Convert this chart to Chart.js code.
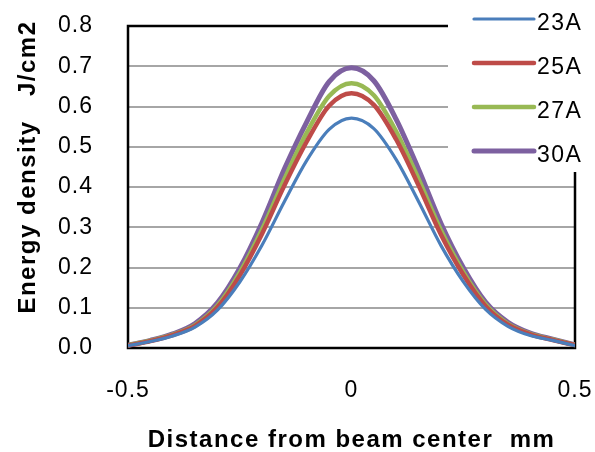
<!DOCTYPE html>
<html>
<head>
<meta charset="utf-8">
<script src="https://cdn.jsdelivr.net/npm/chart.js@4/dist/chart.umd.min.js"></script>
<style>
  html, body { margin: 0; padding: 0; background: #ffffff; }
  #wrap { width: 595px; height: 452px; position: relative; }
</style>
</head>
<body>
<div id="wrap"><canvas id="c" width="595" height="452"></canvas></div>
<script>
// ---- data ----
const distances = [-0.5,-0.45,-0.4,-0.35,-0.3,-0.25,-0.2,-0.15,-0.1,-0.05,0,0.05,0.1,0.15,0.2,0.25,0.3,0.35,0.4,0.45,0.5];
const seriesLabels = ["23A","25A","27A","30A"];
const s23A = [0.006,0.016,0.030,0.052,0.094,0.164,0.256,0.364,0.466,0.543,0.571,0.545,0.468,0.364,0.255,0.165,0.096,0.054,0.031,0.019,0.006];
const s25A = [0.006,0.017,0.032,0.055,0.101,0.180,0.284,0.404,0.513,0.602,0.633,0.604,0.518,0.404,0.282,0.182,0.104,0.058,0.034,0.020,0.007];
const s27A = [0.007,0.018,0.033,0.057,0.105,0.187,0.295,0.420,0.535,0.626,0.658,0.628,0.538,0.420,0.293,0.189,0.108,0.060,0.035,0.021,0.007];
const s30A = [0.007,0.019,0.035,0.061,0.112,0.198,0.312,0.445,0.562,0.662,0.696,0.664,0.568,0.444,0.310,0.200,0.114,0.064,0.037,0.022,0.008];
const xTicks = [-0.5, 0, 0.5];
const yTicks = [0,0.1,0.2,0.3,0.4,0.5,0.6,0.7,0.8];
const xTitle = "Distance from beam center  mm";
const yTitle = "Energy density   J/cm2";

const colors = ["#4A7EBB","#BE4B48","#98B954","#7D60A0"];
const widths = [3.2,4.5,4.5,5];
const allSeries = [s23A, s25A, s27A, s30A];

const datasets = allSeries.map((s, i) => ({
  label: seriesLabels[i],
  data: distances.map((d, j) => ({x: d, y: s[j]})),
  borderColor: colors[i],
  backgroundColor: colors[i],
  borderWidth: widths[i],
  pointRadius: 0,
  cubicInterpolationMode: 'monotone',
  fill: false
}));

const FONT = "'Liberation Sans', Arial, sans-serif";

function zeroPad(scale) {
  scale.paddingTop = 0; scale.paddingBottom = 0;
  scale.paddingLeft = 0; scale.paddingRight = 0;
}

const decor = {
  id: 'decor',
  beforeDraw(chart) {
    const ctx = chart.ctx;
    ctx.save();
    ctx.fillStyle = '#ffffff';
    ctx.fillRect(0, 0, chart.width, chart.height);
    ctx.restore();
    try { ctx.letterSpacing = '1px'; } catch (e) {}
  },
  beforeDatasetsDraw(chart) {
    const {ctx, chartArea: a} = chart;
    ctx.save();
    ctx.strokeStyle = '#000';
    ctx.lineWidth = 2.5;
    ctx.strokeRect(a.left, a.top, a.right - a.left, a.bottom - a.top);
    ctx.restore();
  },
  afterDraw(chart) {
    const {ctx, chartArea: a} = chart;
    ctx.save();
    try { ctx.letterSpacing = '1.5px'; } catch (e) {}
    // axis titles
    ctx.fillStyle = '#000';
    ctx.font = "bold 24px " + FONT;
    ctx.textAlign = 'center';
    ctx.textBaseline = 'alphabetic';
    ctx.fillText(xTitle, (a.left + a.right) / 2, 447);
    ctx.save();
    ctx.translate(35, 167);
    ctx.rotate(-Math.PI / 2);
    ctx.fillText(yTitle, 0, 0);
    ctx.restore();
    // legend
    ctx.fillStyle = '#ffffff';
    ctx.fillRect(448, 0, 147, 172);
    const ys = [19, 63, 107, 151];
    chart.data.datasets.forEach((ds, i) => {
      ctx.strokeStyle = ds.borderColor;
      ctx.lineWidth = ds.borderWidth;
      ctx.lineCap = 'round';
      ctx.beginPath();
      ctx.moveTo(474, ys[i]);
      ctx.lineTo(534, ys[i]);
      ctx.stroke();
      ctx.fillStyle = '#000';
      ctx.font = "23px " + FONT;
      ctx.textAlign = 'left';
      ctx.textBaseline = 'alphabetic';
      ctx.fillText(ds.label, 537, ys[i] + 11);
    });
    ctx.restore();
  }
};

new Chart(document.getElementById('c'), {
  type: 'line',
  data: { datasets },
  options: {
    responsive: false,
    animation: false,
    devicePixelRatio: 1,
    layout: { padding: { left: 0, top: 26, right: 20, bottom: 0 } },
    plugins: { legend: { display: false }, tooltip: { enabled: false } },
    scales: {
      x: {
        type: 'linear',
        min: -0.5, max: 0.5,
        afterFit(scale) { scale.height = 104; zeroPad(scale); },
        afterBuildTicks(scale) { scale.ticks = xTicks.map(v => ({value: v})); },
        grid: { display: false, drawTicks: false },
        border: { display: false },
        ticks: {
          padding: 29,
          color: '#000',
          font: { family: FONT, size: 23 },
          maxRotation: 0,
          callback: v => String(v)
        }
      },
      y: {
        type: 'linear',
        min: 0, max: 0.8,
        afterFit(scale) { scale.width = 128; zeroPad(scale); },
        afterBuildTicks(scale) { scale.ticks = yTicks.map(v => ({value: v})); },
        grid: { color: '#a6a6a6', lineWidth: 2, drawTicks: false },
        border: { display: false },
        ticks: {
          padding: 35,
          color: '#000',
          font: { family: FONT, size: 23 },
          callback: v => Number(v).toFixed(1)
        }
      }
    }
  },
  plugins: [decor]
});
</script>
</body>
</html>
